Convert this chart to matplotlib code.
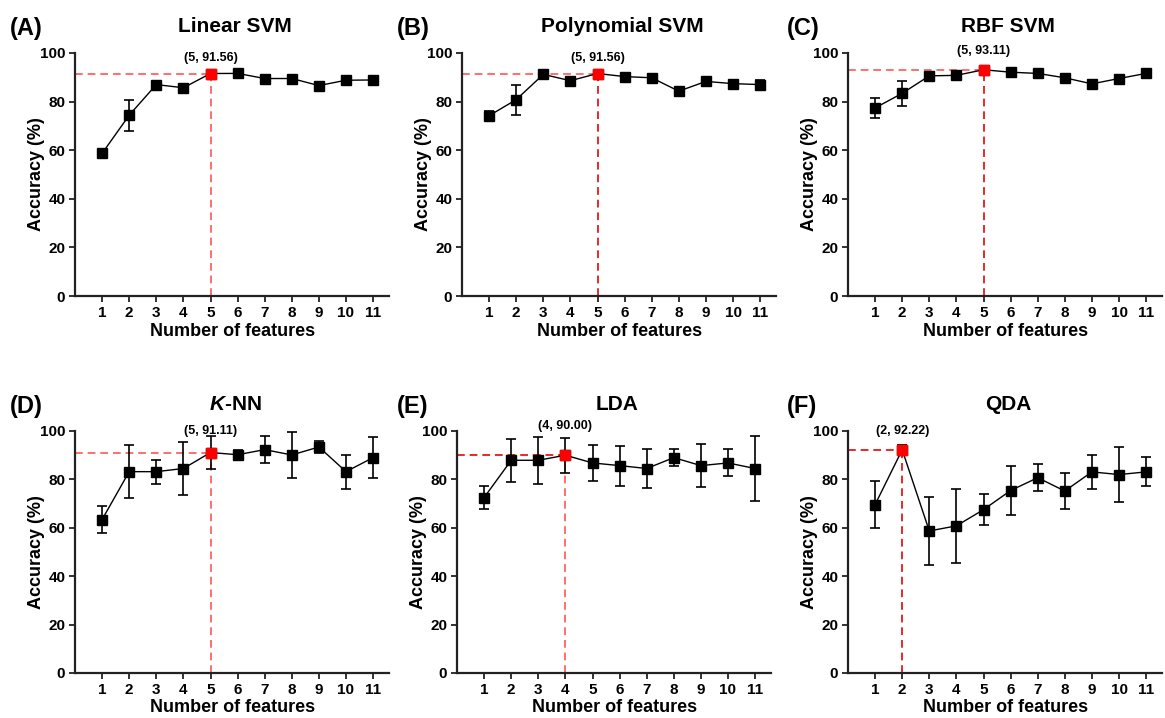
import matplotlib
matplotlib.use('Agg')
import matplotlib.pyplot as plt

plt.rcParams['font.family'] = ['Liberation Sans', 'DejaVu Sans']
plt.rcParams['font.weight'] = 'bold'
plt.rcParams['mathtext.fontset'] = 'custom'
plt.rcParams['mathtext.rm'] = 'Liberation Sans:bold'
plt.rcParams['mathtext.it'] = 'Liberation Sans:italic:bold'

features = list(range(1, 12))

titles = ['Linear SVM', 'Polynomial SVM', 'RBF SVM', '$K$-NN', 'LDA', 'QDA']
panel_tags = ['(A)', '(B)', '(C)', '(D)', '(E)', '(F)']

acc_linear = [58.7, 74.4, 87.0, 85.7, 91.56, 91.6, 89.5, 89.5, 86.6, 88.8, 88.9]
err_linear = [1.0, 6.3, 0.8, 0.8, 0.5, 0.5, 0.8, 0.5, 0.8, 1.5, 0.5]

acc_poly = [74.2, 80.8, 91.2, 88.6, 91.56, 90.3, 89.8, 84.3, 88.3, 87.4, 87.0]
err_poly = [2.0, 6.2, 0.8, 0.8, 1.5, 0.8, 1.5, 0.8, 0.8, 1.5, 2.0]

acc_rbf = [77.4, 83.4, 90.6, 90.8, 93.11, 92.1, 91.6, 89.8, 87.3, 89.5, 91.6]
err_rbf = [4.0, 5.2, 0.8, 1.0, 1.0, 0.8, 0.8, 0.8, 0.8, 0.8, 0.8]

acc_knn = [63.4, 83.2, 83.2, 84.5, 91.11, 90.2, 92.3, 90.1, 93.4, 83.2, 89.0]
err_knn = [5.7, 11.0, 5.0, 10.8, 6.7, 2.0, 5.7, 9.5, 2.3, 7.0, 8.6]

acc_lda = [72.5, 87.9, 87.9, 90.00, 86.8, 85.7, 84.5, 89.0, 85.7, 86.8, 84.5]
err_lda = [4.9, 8.8, 9.6, 7.3, 7.6, 8.3, 8.1, 3.4, 8.9, 5.6, 13.3]

acc_qda = [69.6, 92.22, 58.7, 60.8, 67.5, 75.4, 80.7, 75.2, 83.1, 82.0, 83.1]
err_qda = [9.6, 2.2, 14.2, 15.3, 6.5, 10.3, 5.6, 7.5, 7.0, 11.3, 6.0]

best_feature = [5, 5, 5, 5, 4, 2]
best_label_y = [97.8, 97.9, 100.7, 100.0, 102.0, 100.0]

all_acc = [acc_linear, acc_poly, acc_rbf, acc_knn, acc_lda, acc_qda]
all_err = [err_linear, err_poly, err_rbf, err_knn, err_lda, err_qda]

light_red = '#ff6f6f'
dark_red = '#e82a2a'
h_colors = [light_red, light_red, light_red, light_red, dark_red, dark_red]
v_colors = [light_red, dark_red, dark_red, light_red, light_red, dark_red]

W, H = 1165, 718
fig = plt.figure(figsize=(W / 100, H / 100), dpi=100)

# axes pixel boxes: (left, right, top, bottom)
lefts = [75, 462, 848, 75, 457, 848]
rows = [(53, 296), (53, 296), (53, 296), (431, 673), (431, 673), (431, 673)]
xunit = 27.1
title_y = [27, 27, 27, 405, 405, 405]
tag_x = [10, 397, 787, 10, 397, 787]

for i in range(6):
    l = lefts[i]
    top, bot = rows[i]
    r = l + 11.6 * xunit
    ax = fig.add_axes([l / W, 1 - bot / H, (r - l) / W, (bot - top) / H])
    acc = all_acc[i]
    err = all_err[i]
    bx = best_feature[i]
    by = acc[features.index(bx)]

    ax.plot([0, bx], [by, by], ls=(0, (4, 2.5)), color=h_colors[i], lw=1.4, zorder=2)
    ax.plot([bx, bx], [0, by], ls=(0, (4, 2.5)), color=v_colors[i], lw=1.4, zorder=2)

    ax.errorbar(features, acc, yerr=err, fmt='-s', color='black', ms=6.5, lw=1.0,
                elinewidth=1.2, capsize=3.5, capthick=1.2, mec='black', zorder=3)
    ax.plot([bx], [by], 's', color='red', mec='red', ms=6.5, zorder=4)
    ax.text(bx, best_label_y[i], f'({bx}, {by:.2f})', ha='center', va='center',
            fontsize=9, fontweight='bold', zorder=5)

    ax.set_xlim(0, 11.6)
    ax.set_ylim(0, 100)
    ax.set_xticks(features)
    ax.set_yticks(range(0, 101, 20))
    for s in ['top', 'right']:
        ax.spines[s].set_visible(False)
    for s in ['left', 'bottom']:
        ax.spines[s].set_linewidth(1.6)
        ax.spines[s].set_color('#222222')
    ax.tick_params(direction='out', length=4, width=1.3, labelsize=11, pad=3, colors='#222222',
                   labelcolor='black')
    ax.set_xlabel('Number of features', fontsize=13, fontweight='bold', labelpad=2)
    ax.set_ylabel('Accuracy (%)', fontsize=13, fontweight='bold', labelpad=-4)

    fig.text((l + r) / 2 / W + 3 / W, 1 - title_y[i] / H, titles[i], ha='center', va='center',
             fontsize=15, fontweight='bold')
    fig.text(tag_x[i] / W, 1 - (title_y[i] + 2) / H, panel_tags[i], ha='left', va='center',
             fontsize=17, fontweight='bold')

fig.savefig('out.png', dpi=100)
